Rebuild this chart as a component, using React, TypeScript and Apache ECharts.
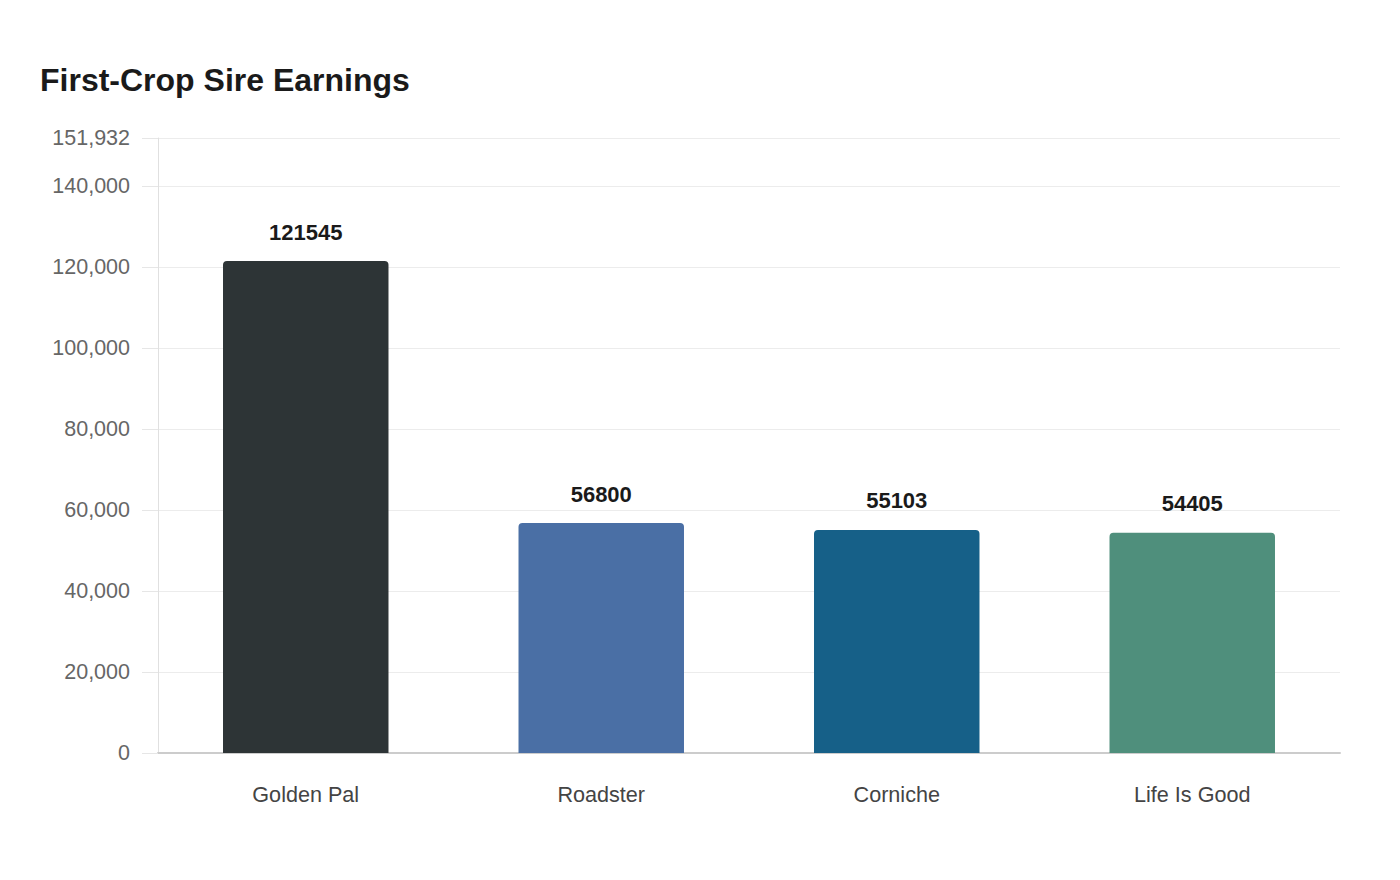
import React, { useEffect, useRef } from "react";
import * as echarts from "echarts";

const categories = ["Golden Pal", "Roadster", "Corniche", "Life Is Good"];
const earnings = [121545, 56800, 55103, 54405];
const barColors = ["#2d3436", "#4a6fa5", "#166088", "#4f8f7c"];
const yMax = 151932;

export default function App() {
  const ref = useRef<HTMLDivElement>(null);
  useEffect(() => {
    const chart = echarts.init(ref.current!, null, { renderer: "svg" });
    chart.setOption({
      animation: false,
      textStyle: { fontFamily: "Liberation Sans, Arial, sans-serif" },
      title: {
        text: "First-Crop Sire Earnings",
        left: 35,
        top: 59,
        textStyle: { fontSize: 32, fontWeight: "bold", color: "#1a1a1a" },
      },
      grid: { left: 158, right: 60, top: 138, bottom: 127, containLabel: false },
      xAxis: {
        type: "category",
        data: categories,
        axisLine: { show: true, lineStyle: { color: "#cccccc", width: 2 } },
        axisTick: { show: false },
        axisLabel: { color: "#444444", fontSize: 21.6, margin: 30 },
      },
      yAxis: {
        type: "value",
        min: 0,
        max: yMax,
        interval: 20000,
        axisLine: { show: true, lineStyle: { color: "#e0e0e0", width: 1 } },
        axisTick: { show: true, length: 16, lineStyle: { color: "#e6e6e6" } },
        splitLine: { show: true, lineStyle: { color: "#ececec", width: 1 } },
        axisLabel: {
          color: "#666666",
          fontSize: 21.5,
          margin: 28,
          showMaxLabel: true,
          formatter: (v: number) => v.toLocaleString("en-US"),
        },
      },
      series: [
        {
          type: "bar",
          barWidth: "56%",
          data: earnings.map((v, i) => ({
            value: v,
            itemStyle: { color: barColors[i], borderRadius: [4, 4, 0, 0] },
          })),
          label: {
            show: true,
            position: "top",
            distance: 18,
            color: "#1a1a1a",
            fontSize: 22,
            fontWeight: "bold",
          },
        },
      ],
    });
    return () => chart.dispose();
  }, []);
  return (
    <div
      ref={ref}
      style={{ position: "fixed", left: 0, top: 0, width: 1400, height: 880, background: "#ffffff" }}
    />
  );
}
